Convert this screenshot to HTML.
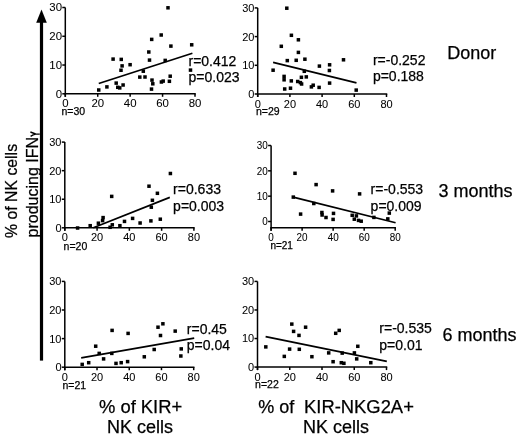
<!DOCTYPE html>
<html><head><meta charset="utf-8"><style>
html,body{margin:0;padding:0;background:#fff;}
svg{display:block;font-family:'Liberation Sans', sans-serif;filter:grayscale(1);}
text{stroke:#000;stroke-width:0.25px;}
.t{stroke-width:0.05px;}
</style></head><body>
<svg width="520" height="436" viewBox="0 0 520 436" fill="#000">
<rect width="520" height="436" fill="#fff"/>
<line x1="65.3" y1="7.5" x2="65.3" y2="96.8" stroke="#000" stroke-width="1.5"/>
<line x1="64.55" y1="93.8" x2="195.75" y2="93.8" stroke="#000" stroke-width="1.5"/>
<line x1="62.3" y1="93.80" x2="65.3" y2="93.80" stroke="#000" stroke-width="1.5"/>
<text transform="translate(62.00,97.70) scale(1.0,1)" font-size="11.4" text-anchor="end" class="t">0</text>
<line x1="62.3" y1="65.03" x2="65.3" y2="65.03" stroke="#000" stroke-width="1.5"/>
<text transform="translate(62.00,68.93) scale(1.0,1)" font-size="11.4" text-anchor="end" class="t">10</text>
<line x1="62.3" y1="36.27" x2="65.3" y2="36.27" stroke="#000" stroke-width="1.5"/>
<text transform="translate(62.00,40.17) scale(1.0,1)" font-size="11.4" text-anchor="end" class="t">20</text>
<line x1="62.3" y1="7.50" x2="65.3" y2="7.50" stroke="#000" stroke-width="1.5"/>
<text transform="translate(62.00,11.40) scale(1.0,1)" font-size="11.4" text-anchor="end" class="t">30</text>
<line x1="65.30" y1="93.8" x2="65.30" y2="96.8" stroke="#000" stroke-width="1.5"/>
<text transform="translate(65.30,107.30) scale(1.0,1)" font-size="11.4" text-anchor="middle" class="t">0</text>
<line x1="97.72" y1="93.8" x2="97.72" y2="96.8" stroke="#000" stroke-width="1.5"/>
<text transform="translate(97.72,107.30) scale(1.0,1)" font-size="11.4" text-anchor="middle" class="t">20</text>
<line x1="130.15" y1="93.8" x2="130.15" y2="96.8" stroke="#000" stroke-width="1.5"/>
<text transform="translate(130.15,107.30) scale(1.0,1)" font-size="11.4" text-anchor="middle" class="t">40</text>
<line x1="162.57" y1="93.8" x2="162.57" y2="96.8" stroke="#000" stroke-width="1.5"/>
<text transform="translate(162.57,107.30) scale(1.0,1)" font-size="11.4" text-anchor="middle" class="t">60</text>
<line x1="195.00" y1="93.8" x2="195.00" y2="96.8" stroke="#000" stroke-width="1.5"/>
<text transform="translate(195.00,107.30) scale(1.0,1)" font-size="11.4" text-anchor="middle" class="t">80</text>
<rect x="166.25" y="6.05" width="3.5" height="3.5"/>
<rect x="159.45" y="33.25" width="3.5" height="3.5"/>
<rect x="149.95" y="37.65" width="3.5" height="3.5"/>
<rect x="169.15" y="44.35" width="3.5" height="3.5"/>
<rect x="189.95" y="43.05" width="3.5" height="3.5"/>
<rect x="147.05" y="50.25" width="3.5" height="3.5"/>
<rect x="147.75" y="58.35" width="3.5" height="3.5"/>
<rect x="163.45" y="58.65" width="3.5" height="3.5"/>
<rect x="111.35" y="57.35" width="3.5" height="3.5"/>
<rect x="119.50" y="57.65" width="3.5" height="3.5"/>
<rect x="120.35" y="64.15" width="3.5" height="3.5"/>
<rect x="119.25" y="68.50" width="3.5" height="3.5"/>
<rect x="128.35" y="62.95" width="3.5" height="3.5"/>
<rect x="141.55" y="69.45" width="3.5" height="3.5"/>
<rect x="138.05" y="75.35" width="3.5" height="3.5"/>
<rect x="143.25" y="75.25" width="3.5" height="3.5"/>
<rect x="150.25" y="78.35" width="3.5" height="3.5"/>
<rect x="151.05" y="82.05" width="3.5" height="3.5"/>
<rect x="149.75" y="87.35" width="3.5" height="3.5"/>
<rect x="159.65" y="80.25" width="3.5" height="3.5"/>
<rect x="161.45" y="79.35" width="3.5" height="3.5"/>
<rect x="168.45" y="74.45" width="3.5" height="3.5"/>
<rect x="167.65" y="79.55" width="3.5" height="3.5"/>
<rect x="188.75" y="68.35" width="3.5" height="3.5"/>
<rect x="114.45" y="81.35" width="3.5" height="3.5"/>
<rect x="116.00" y="85.55" width="3.5" height="3.5"/>
<rect x="118.00" y="86.15" width="3.5" height="3.5"/>
<rect x="121.35" y="83.25" width="3.5" height="3.5"/>
<rect x="105.15" y="85.15" width="3.5" height="3.5"/>
<rect x="97.00" y="88.25" width="3.5" height="3.5"/>
<line x1="98.75" y1="83.5" x2="192.4" y2="53.2" stroke="#000" stroke-width="1.7"/>
<text x="188.50" y="65.6" font-size="14">r=0.412</text>
<text x="188.50" y="82.0" font-size="14">p=0.023</text>
<text x="61.50" y="114.6" font-size="10.5">n=30</text>
<line x1="257.7" y1="7.9" x2="257.7" y2="97.0" stroke="#000" stroke-width="1.5"/>
<line x1="256.95" y1="94.0" x2="387.25" y2="94.0" stroke="#000" stroke-width="1.5"/>
<line x1="254.7" y1="94.00" x2="257.7" y2="94.00" stroke="#000" stroke-width="1.5"/>
<text transform="translate(254.40,97.90) scale(1.0,1)" font-size="11" text-anchor="end" class="t">0</text>
<line x1="254.7" y1="65.30" x2="257.7" y2="65.30" stroke="#000" stroke-width="1.5"/>
<text transform="translate(254.40,69.20) scale(1.0,1)" font-size="11" text-anchor="end" class="t">10</text>
<line x1="254.7" y1="36.60" x2="257.7" y2="36.60" stroke="#000" stroke-width="1.5"/>
<text transform="translate(254.40,40.50) scale(1.0,1)" font-size="11" text-anchor="end" class="t">20</text>
<line x1="254.7" y1="7.90" x2="257.7" y2="7.90" stroke="#000" stroke-width="1.5"/>
<text transform="translate(254.40,11.80) scale(1.0,1)" font-size="11" text-anchor="end" class="t">30</text>
<line x1="257.70" y1="94.0" x2="257.70" y2="97.0" stroke="#000" stroke-width="1.5"/>
<text transform="translate(257.70,107.50) scale(1.0,1)" font-size="11" text-anchor="middle" class="t">0</text>
<line x1="289.90" y1="94.0" x2="289.90" y2="97.0" stroke="#000" stroke-width="1.5"/>
<text transform="translate(289.90,107.50) scale(1.0,1)" font-size="11" text-anchor="middle" class="t">20</text>
<line x1="322.10" y1="94.0" x2="322.10" y2="97.0" stroke="#000" stroke-width="1.5"/>
<text transform="translate(322.10,107.50) scale(1.0,1)" font-size="11" text-anchor="middle" class="t">40</text>
<line x1="354.30" y1="94.0" x2="354.30" y2="97.0" stroke="#000" stroke-width="1.5"/>
<text transform="translate(354.30,107.50) scale(1.0,1)" font-size="11" text-anchor="middle" class="t">60</text>
<line x1="386.50" y1="94.0" x2="386.50" y2="97.0" stroke="#000" stroke-width="1.5"/>
<text transform="translate(386.50,107.50) scale(1.0,1)" font-size="11" text-anchor="middle" class="t">80</text>
<rect x="285.05" y="6.45" width="3.5" height="3.5"/>
<rect x="289.65" y="33.55" width="3.5" height="3.5"/>
<rect x="296.65" y="38.05" width="3.5" height="3.5"/>
<rect x="279.55" y="44.55" width="3.5" height="3.5"/>
<rect x="296.65" y="50.65" width="3.5" height="3.5"/>
<rect x="285.55" y="58.85" width="3.5" height="3.5"/>
<rect x="294.45" y="58.55" width="3.5" height="3.5"/>
<rect x="303.15" y="57.45" width="3.5" height="3.5"/>
<rect x="317.65" y="64.35" width="3.5" height="3.5"/>
<rect x="271.35" y="68.45" width="3.5" height="3.5"/>
<rect x="302.55" y="69.55" width="3.5" height="3.5"/>
<rect x="282.35" y="74.65" width="3.5" height="3.5"/>
<rect x="282.35" y="78.05" width="3.5" height="3.5"/>
<rect x="289.55" y="79.15" width="3.5" height="3.5"/>
<rect x="299.65" y="75.55" width="3.5" height="3.5"/>
<rect x="304.55" y="75.15" width="3.5" height="3.5"/>
<rect x="295.95" y="79.75" width="3.5" height="3.5"/>
<rect x="298.65" y="80.85" width="3.5" height="3.5"/>
<rect x="299.85" y="82.25" width="3.5" height="3.5"/>
<rect x="282.95" y="87.25" width="3.5" height="3.5"/>
<rect x="288.75" y="86.45" width="3.5" height="3.5"/>
<rect x="309.65" y="85.15" width="3.5" height="3.5"/>
<rect x="311.45" y="83.45" width="3.5" height="3.5"/>
<rect x="317.35" y="85.65" width="3.5" height="3.5"/>
<rect x="327.85" y="63.05" width="3.5" height="3.5"/>
<rect x="327.65" y="68.75" width="3.5" height="3.5"/>
<rect x="341.75" y="58.05" width="3.5" height="3.5"/>
<rect x="327.85" y="81.35" width="3.5" height="3.5"/>
<rect x="354.45" y="88.35" width="3.5" height="3.5"/>
<line x1="273.1" y1="62.4" x2="356.5" y2="82.9" stroke="#000" stroke-width="1.7"/>
<text x="372.90" y="64.6" font-size="14">r=-0.252</text>
<text x="372.90" y="80.6" font-size="14">p=0.188</text>
<text x="256.00" y="114.9" font-size="10.5">n=29</text>
<line x1="64.8" y1="142.1" x2="64.8" y2="230.8" stroke="#000" stroke-width="1.5"/>
<line x1="64.05" y1="227.8" x2="194.65" y2="227.8" stroke="#000" stroke-width="1.5"/>
<line x1="61.8" y1="227.80" x2="64.8" y2="227.80" stroke="#000" stroke-width="1.5"/>
<text transform="translate(61.50,231.70) scale(1.0,1)" font-size="11" text-anchor="end" class="t">0</text>
<line x1="61.8" y1="199.23" x2="64.8" y2="199.23" stroke="#000" stroke-width="1.5"/>
<text transform="translate(61.50,203.13) scale(1.0,1)" font-size="11" text-anchor="end" class="t">10</text>
<line x1="61.8" y1="170.67" x2="64.8" y2="170.67" stroke="#000" stroke-width="1.5"/>
<text transform="translate(61.50,174.57) scale(1.0,1)" font-size="11" text-anchor="end" class="t">20</text>
<line x1="61.8" y1="142.10" x2="64.8" y2="142.10" stroke="#000" stroke-width="1.5"/>
<text transform="translate(61.50,146.00) scale(1.0,1)" font-size="11" text-anchor="end" class="t">30</text>
<line x1="64.80" y1="227.8" x2="64.80" y2="230.8" stroke="#000" stroke-width="1.5"/>
<text transform="translate(64.80,241.30) scale(1.0,1)" font-size="11" text-anchor="middle" class="t">0</text>
<line x1="97.08" y1="227.8" x2="97.08" y2="230.8" stroke="#000" stroke-width="1.5"/>
<text transform="translate(97.08,241.30) scale(1.0,1)" font-size="11" text-anchor="middle" class="t">20</text>
<line x1="129.35" y1="227.8" x2="129.35" y2="230.8" stroke="#000" stroke-width="1.5"/>
<text transform="translate(129.35,241.30) scale(1.0,1)" font-size="11" text-anchor="middle" class="t">40</text>
<line x1="161.62" y1="227.8" x2="161.62" y2="230.8" stroke="#000" stroke-width="1.5"/>
<text transform="translate(161.62,241.30) scale(1.0,1)" font-size="11" text-anchor="middle" class="t">60</text>
<line x1="193.90" y1="227.8" x2="193.90" y2="230.8" stroke="#000" stroke-width="1.5"/>
<text transform="translate(193.90,241.30) scale(1.0,1)" font-size="11" text-anchor="middle" class="t">80</text>
<rect x="75.85" y="226.25" width="3.5" height="3.5"/>
<rect x="88.45" y="223.95" width="3.5" height="3.5"/>
<rect x="96.65" y="221.45" width="3.5" height="3.5"/>
<rect x="101.35" y="215.85" width="3.5" height="3.5"/>
<rect x="100.85" y="218.85" width="3.5" height="3.5"/>
<rect x="109.95" y="194.65" width="3.5" height="3.5"/>
<rect x="110.55" y="223.05" width="3.5" height="3.5"/>
<rect x="108.35" y="225.55" width="3.5" height="3.5"/>
<rect x="118.15" y="223.95" width="3.5" height="3.5"/>
<rect x="122.75" y="219.65" width="3.5" height="3.5"/>
<rect x="130.85" y="216.65" width="3.5" height="3.5"/>
<rect x="138.35" y="221.25" width="3.5" height="3.5"/>
<rect x="149.15" y="219.15" width="3.5" height="3.5"/>
<rect x="158.55" y="217.45" width="3.5" height="3.5"/>
<rect x="149.55" y="205.45" width="3.5" height="3.5"/>
<rect x="150.65" y="198.55" width="3.5" height="3.5"/>
<rect x="155.65" y="191.55" width="3.5" height="3.5"/>
<rect x="147.25" y="184.45" width="3.5" height="3.5"/>
<rect x="168.65" y="171.75" width="3.5" height="3.5"/>
<line x1="93.3" y1="227.7" x2="169.8" y2="197.4" stroke="#000" stroke-width="1.7"/>
<text x="173.10" y="194.4" font-size="14">r=0.633</text>
<text x="173.10" y="210.6" font-size="14">p=0.003</text>
<text x="63.60" y="250.4" font-size="10.5">n=20</text>
<line x1="271.1" y1="145.5" x2="271.1" y2="230.8" stroke="#000" stroke-width="1.5"/>
<line x1="270.35" y1="227.8" x2="395.95" y2="227.8" stroke="#000" stroke-width="1.5"/>
<line x1="268.1" y1="221.50" x2="271.1" y2="221.50" stroke="#000" stroke-width="1.5"/>
<text transform="translate(267.80,225.40) scale(0.9,1)" font-size="11" text-anchor="end" class="t">0</text>
<line x1="268.1" y1="196.17" x2="271.1" y2="196.17" stroke="#000" stroke-width="1.5"/>
<text transform="translate(267.80,200.07) scale(0.9,1)" font-size="11" text-anchor="end" class="t">10</text>
<line x1="268.1" y1="170.83" x2="271.1" y2="170.83" stroke="#000" stroke-width="1.5"/>
<text transform="translate(267.80,174.73) scale(0.9,1)" font-size="11" text-anchor="end" class="t">20</text>
<line x1="268.1" y1="145.50" x2="271.1" y2="145.50" stroke="#000" stroke-width="1.5"/>
<text transform="translate(267.80,149.40) scale(0.9,1)" font-size="11" text-anchor="end" class="t">30</text>
<line x1="271.10" y1="227.8" x2="271.10" y2="230.8" stroke="#000" stroke-width="1.5"/>
<text transform="translate(271.10,241.30) scale(0.9,1)" font-size="11" text-anchor="middle" class="t">0</text>
<line x1="302.12" y1="227.8" x2="302.12" y2="230.8" stroke="#000" stroke-width="1.5"/>
<text transform="translate(302.12,241.30) scale(0.9,1)" font-size="11" text-anchor="middle" class="t">20</text>
<line x1="333.15" y1="227.8" x2="333.15" y2="230.8" stroke="#000" stroke-width="1.5"/>
<text transform="translate(333.15,241.30) scale(0.9,1)" font-size="11" text-anchor="middle" class="t">40</text>
<line x1="364.18" y1="227.8" x2="364.18" y2="230.8" stroke="#000" stroke-width="1.5"/>
<text transform="translate(364.18,241.30) scale(0.9,1)" font-size="11" text-anchor="middle" class="t">60</text>
<line x1="395.20" y1="227.8" x2="395.20" y2="230.8" stroke="#000" stroke-width="1.5"/>
<text transform="translate(395.20,241.30) scale(0.9,1)" font-size="11" text-anchor="middle" class="t">80</text>
<rect x="293.25" y="171.55" width="3.5" height="3.5"/>
<rect x="314.35" y="182.85" width="3.5" height="3.5"/>
<rect x="330.85" y="189.15" width="3.5" height="3.5"/>
<rect x="291.55" y="195.35" width="3.5" height="3.5"/>
<rect x="312.05" y="201.75" width="3.5" height="3.5"/>
<rect x="298.85" y="212.35" width="3.5" height="3.5"/>
<rect x="320.15" y="210.75" width="3.5" height="3.5"/>
<rect x="320.35" y="213.25" width="3.5" height="3.5"/>
<rect x="324.25" y="215.75" width="3.5" height="3.5"/>
<rect x="331.75" y="211.65" width="3.5" height="3.5"/>
<rect x="331.35" y="217.65" width="3.5" height="3.5"/>
<rect x="357.85" y="192.15" width="3.5" height="3.5"/>
<rect x="350.45" y="213.55" width="3.5" height="3.5"/>
<rect x="354.65" y="214.15" width="3.5" height="3.5"/>
<rect x="352.55" y="217.45" width="3.5" height="3.5"/>
<rect x="356.75" y="218.65" width="3.5" height="3.5"/>
<rect x="359.45" y="219.45" width="3.5" height="3.5"/>
<rect x="372.15" y="215.65" width="3.5" height="3.5"/>
<rect x="387.55" y="211.35" width="3.5" height="3.5"/>
<rect x="386.05" y="217.15" width="3.5" height="3.5"/>
<line x1="293.1" y1="197.1" x2="395.6" y2="222.7" stroke="#000" stroke-width="1.7"/>
<text x="370.60" y="194.1" font-size="14">r=-0.553</text>
<text x="370.60" y="210.6" font-size="14">p=0.009</text>
<text x="270.40" y="249.3" font-size="10.0">n=21</text>
<line x1="64.8" y1="281.4" x2="64.8" y2="370.2" stroke="#000" stroke-width="1.5"/>
<line x1="64.05" y1="367.2" x2="194.45" y2="367.2" stroke="#000" stroke-width="1.5"/>
<line x1="61.8" y1="367.20" x2="64.8" y2="367.20" stroke="#000" stroke-width="1.5"/>
<text transform="translate(61.50,371.10) scale(1.0,1)" font-size="11" text-anchor="end" class="t">0</text>
<line x1="61.8" y1="338.60" x2="64.8" y2="338.60" stroke="#000" stroke-width="1.5"/>
<text transform="translate(61.50,342.50) scale(1.0,1)" font-size="11" text-anchor="end" class="t">10</text>
<line x1="61.8" y1="310.00" x2="64.8" y2="310.00" stroke="#000" stroke-width="1.5"/>
<text transform="translate(61.50,313.90) scale(1.0,1)" font-size="11" text-anchor="end" class="t">20</text>
<line x1="61.8" y1="281.40" x2="64.8" y2="281.40" stroke="#000" stroke-width="1.5"/>
<text transform="translate(61.50,285.30) scale(1.0,1)" font-size="11" text-anchor="end" class="t">30</text>
<line x1="64.80" y1="367.2" x2="64.80" y2="370.2" stroke="#000" stroke-width="1.5"/>
<text transform="translate(64.80,380.70) scale(1.0,1)" font-size="11" text-anchor="middle" class="t">0</text>
<line x1="97.02" y1="367.2" x2="97.02" y2="370.2" stroke="#000" stroke-width="1.5"/>
<text transform="translate(97.02,380.70) scale(1.0,1)" font-size="11" text-anchor="middle" class="t">20</text>
<line x1="129.25" y1="367.2" x2="129.25" y2="370.2" stroke="#000" stroke-width="1.5"/>
<text transform="translate(129.25,380.70) scale(1.0,1)" font-size="11" text-anchor="middle" class="t">40</text>
<line x1="161.47" y1="367.2" x2="161.47" y2="370.2" stroke="#000" stroke-width="1.5"/>
<text transform="translate(161.47,380.70) scale(1.0,1)" font-size="11" text-anchor="middle" class="t">60</text>
<line x1="193.70" y1="367.2" x2="193.70" y2="370.2" stroke="#000" stroke-width="1.5"/>
<text transform="translate(193.70,380.70) scale(1.0,1)" font-size="11" text-anchor="middle" class="t">80</text>
<rect x="110.35" y="328.65" width="3.5" height="3.5"/>
<rect x="126.35" y="331.65" width="3.5" height="3.5"/>
<rect x="93.95" y="344.45" width="3.5" height="3.5"/>
<rect x="97.45" y="351.65" width="3.5" height="3.5"/>
<rect x="110.05" y="351.65" width="3.5" height="3.5"/>
<rect x="101.85" y="357.15" width="3.5" height="3.5"/>
<rect x="80.45" y="362.65" width="3.5" height="3.5"/>
<rect x="86.95" y="360.95" width="3.5" height="3.5"/>
<rect x="114.25" y="361.65" width="3.5" height="3.5"/>
<rect x="119.45" y="360.95" width="3.5" height="3.5"/>
<rect x="125.85" y="359.85" width="3.5" height="3.5"/>
<rect x="161.15" y="322.05" width="3.5" height="3.5"/>
<rect x="156.25" y="325.45" width="3.5" height="3.5"/>
<rect x="158.75" y="333.75" width="3.5" height="3.5"/>
<rect x="173.45" y="329.35" width="3.5" height="3.5"/>
<rect x="152.45" y="347.75" width="3.5" height="3.5"/>
<rect x="142.55" y="355.05" width="3.5" height="3.5"/>
<rect x="179.50" y="347.15" width="3.5" height="3.5"/>
<rect x="179.10" y="354.25" width="3.5" height="3.5"/>
<line x1="81.2" y1="357.8" x2="194.2" y2="338.2" stroke="#000" stroke-width="1.7"/>
<text x="186.80" y="333.6" font-size="14">r=0.45</text>
<text x="186.80" y="350.3" font-size="14">p=0.04</text>
<text x="62.50" y="388.9" font-size="10.5">n=21</text>
<line x1="257.5" y1="281.4" x2="257.5" y2="370.1" stroke="#000" stroke-width="1.5"/>
<line x1="256.75" y1="367.1" x2="387.25" y2="367.1" stroke="#000" stroke-width="1.5"/>
<line x1="254.5" y1="367.10" x2="257.5" y2="367.10" stroke="#000" stroke-width="1.5"/>
<text transform="translate(254.20,371.00) scale(1.0,1)" font-size="11" text-anchor="end" class="t">0</text>
<line x1="254.5" y1="338.53" x2="257.5" y2="338.53" stroke="#000" stroke-width="1.5"/>
<text transform="translate(254.20,342.43) scale(1.0,1)" font-size="11" text-anchor="end" class="t">10</text>
<line x1="254.5" y1="309.97" x2="257.5" y2="309.97" stroke="#000" stroke-width="1.5"/>
<text transform="translate(254.20,313.87) scale(1.0,1)" font-size="11" text-anchor="end" class="t">20</text>
<line x1="254.5" y1="281.40" x2="257.5" y2="281.40" stroke="#000" stroke-width="1.5"/>
<text transform="translate(254.20,285.30) scale(1.0,1)" font-size="11" text-anchor="end" class="t">30</text>
<line x1="257.50" y1="367.1" x2="257.50" y2="370.1" stroke="#000" stroke-width="1.5"/>
<text transform="translate(257.50,380.60) scale(1.0,1)" font-size="11" text-anchor="middle" class="t">0</text>
<line x1="289.75" y1="367.1" x2="289.75" y2="370.1" stroke="#000" stroke-width="1.5"/>
<text transform="translate(289.75,380.60) scale(1.0,1)" font-size="11" text-anchor="middle" class="t">20</text>
<line x1="322.00" y1="367.1" x2="322.00" y2="370.1" stroke="#000" stroke-width="1.5"/>
<text transform="translate(322.00,380.60) scale(1.0,1)" font-size="11" text-anchor="middle" class="t">40</text>
<line x1="354.25" y1="367.1" x2="354.25" y2="370.1" stroke="#000" stroke-width="1.5"/>
<text transform="translate(354.25,380.60) scale(1.0,1)" font-size="11" text-anchor="middle" class="t">60</text>
<line x1="386.50" y1="367.1" x2="386.50" y2="370.1" stroke="#000" stroke-width="1.5"/>
<text transform="translate(386.50,380.60) scale(1.0,1)" font-size="11" text-anchor="middle" class="t">80</text>
<rect x="290.05" y="322.35" width="3.5" height="3.5"/>
<rect x="303.85" y="325.45" width="3.5" height="3.5"/>
<rect x="291.85" y="329.65" width="3.5" height="3.5"/>
<rect x="297.25" y="333.65" width="3.5" height="3.5"/>
<rect x="264.05" y="345.15" width="3.5" height="3.5"/>
<rect x="287.85" y="347.35" width="3.5" height="3.5"/>
<rect x="297.55" y="347.55" width="3.5" height="3.5"/>
<rect x="282.55" y="354.65" width="3.5" height="3.5"/>
<rect x="310.15" y="354.95" width="3.5" height="3.5"/>
<rect x="333.95" y="331.55" width="3.5" height="3.5"/>
<rect x="337.45" y="328.65" width="3.5" height="3.5"/>
<rect x="356.05" y="344.55" width="3.5" height="3.5"/>
<rect x="326.95" y="351.15" width="3.5" height="3.5"/>
<rect x="340.45" y="351.35" width="3.5" height="3.5"/>
<rect x="352.65" y="351.15" width="3.5" height="3.5"/>
<rect x="354.95" y="357.15" width="3.5" height="3.5"/>
<rect x="331.35" y="359.95" width="3.5" height="3.5"/>
<rect x="339.55" y="360.95" width="3.5" height="3.5"/>
<rect x="342.15" y="361.55" width="3.5" height="3.5"/>
<rect x="369.05" y="360.95" width="3.5" height="3.5"/>
<line x1="265.6" y1="336.7" x2="386.8" y2="361.4" stroke="#000" stroke-width="1.7"/>
<text x="379.30" y="333.3" font-size="14">r=-0.535</text>
<text x="379.30" y="349.8" font-size="14">p=0.01</text>
<text x="255.10" y="387.6" font-size="10.5">n=22</text>
<text x="447.2" y="58.8" font-size="18">Donor</text>
<text x="438.4" y="196.9" font-size="18">3 months</text>
<text x="442.5" y="341.0" font-size="18">6 months</text>
<text x="140.6" y="412.6" font-size="18.4" text-anchor="middle">% of KIR+</text>
<text x="140.0" y="433.0" font-size="18" text-anchor="middle">NK cells</text>
<text x="258.3" y="412.8" font-size="18">% of</text>
<text x="304.0" y="412.8" font-size="18.4">KIR-NKG2A+</text>
<text x="336.0" y="433.4" font-size="18" text-anchor="middle">NK cells</text>
<g transform="translate(17.0,237.9) rotate(-90)"><text x="0" y="0" font-size="15.8">% of NK cells</text></g>
<g transform="translate(37.5,237.4) rotate(-90)"><text x="0" y="0" font-size="16">producing IFN</text></g>
<path d="M30.4,132.0 L35.6,134.0 M30.6,136.4 Q33.2,134.6 35.6,134.0 L39.8,134.2" fill="none" stroke="#000" stroke-width="1.35"/>
<rect x="39.9" y="21" width="3.2" height="339.6"/>
<polygon points="41.5,9.5 36.2,22.8 46.8,22.8"/>
</svg>
</body></html>
